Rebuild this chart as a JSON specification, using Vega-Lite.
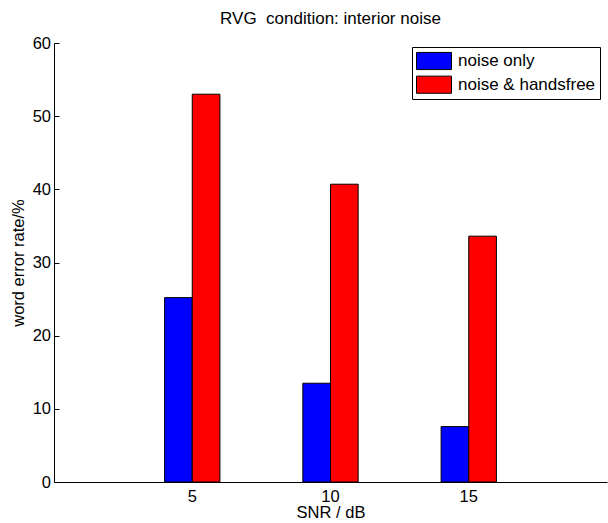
{
  "$schema": "https://vega.github.io/schema/vega-lite/v6.json",
  "width": 553,
  "height": 439,
  "autosize": {"type": "none"},
  "padding": {"left": 54, "top": 43, "right": 1, "bottom": 41},
  "background": "white",
  "title": {"text": "RVG\u00a0 condition: interior noise", "font": "Liberation Sans", "fontSize": 17, "fontWeight": "normal", "color": "black", "offset": 7, "anchor": "middle"},
  "data": {"values": [
    {"snr": "5", "series": "noise only", "wer": 25.2},
    {"snr": "5", "series": "noise & handsfree", "wer": 53.0},
    {"snr": "10", "series": "noise only", "wer": 13.5},
    {"snr": "10", "series": "noise & handsfree", "wer": 40.7},
    {"snr": "15", "series": "noise only", "wer": 7.57},
    {"snr": "15", "series": "noise & handsfree", "wer": 33.6}
  ]},
  "mark": {"type": "bar", "stroke": "black", "strokeWidth": 1, "opacity": 1},
  "encoding": {
    "x": {"field": "snr", "type": "ordinal", "sort": ["5", "10", "15"],
      "scale": {"paddingInner": 0.6, "paddingOuter": 0.8},
      "axis": {"title": "SNR / dB", "labelAngle": 0, "labelFont": "Liberation Sans", "labelFontSize": 16.5, "labelColor": "black", "titleFont": "Liberation Sans", "titleFontSize": 16.5, "titleFontWeight": "normal", "titleColor": "black", "domainColor": "black", "ticks": false, "labelPadding": 6, "titlePadding": 0}},
    "xOffset": {"field": "series", "type": "nominal", "sort": ["noise only", "noise & handsfree"], "scale": {"paddingInner": 0, "paddingOuter": 0}},
    "y": {"field": "wer", "type": "quantitative", "scale": {"domain": [0, 60], "nice": false},
      "axis": {"title": "word error rate/%", "values": [0, 10, 20, 30, 40, 50, 60], "grid": false, "tickSize": -5, "tickColor": "black", "domainColor": "black", "labelPadding": 8.5, "labelFont": "Liberation Sans", "labelFontSize": 16.5, "labelColor": "black", "titleFont": "Liberation Sans", "titleFontSize": 16.5, "titleFontWeight": "normal", "titleColor": "black", "titlePadding": 6}},
    "fill": {"field": "series", "type": "nominal", "sort": ["noise only", "noise & handsfree"],
      "scale": {"domain": ["noise only", "noise & handsfree"], "range": ["#0000ff", "#ff0000"]},
      "legend": {"title": null, "orient": "none", "legendX": 358, "legendY": 4, "direction": "vertical",
        "symbolType": "M-1,-0.49h2v0.98h-2z", "symbolSize": 1225, "symbolStrokeColor": "black", "symbolStrokeWidth": 1, "symbolOpacity": 1,
        "clipHeight": 20,
        "labelFont": "Liberation Sans", "labelFontSize": 17, "labelColor": "black", "labelOffset": 6,
        "rowPadding": 3.7, "padding": 4, "strokeColor": "black", "fillColor": "white", "cornerRadius": 0}}
  },
  "config": {"view": {"stroke": null}, "axis": {"domainWidth": 1}}
}
